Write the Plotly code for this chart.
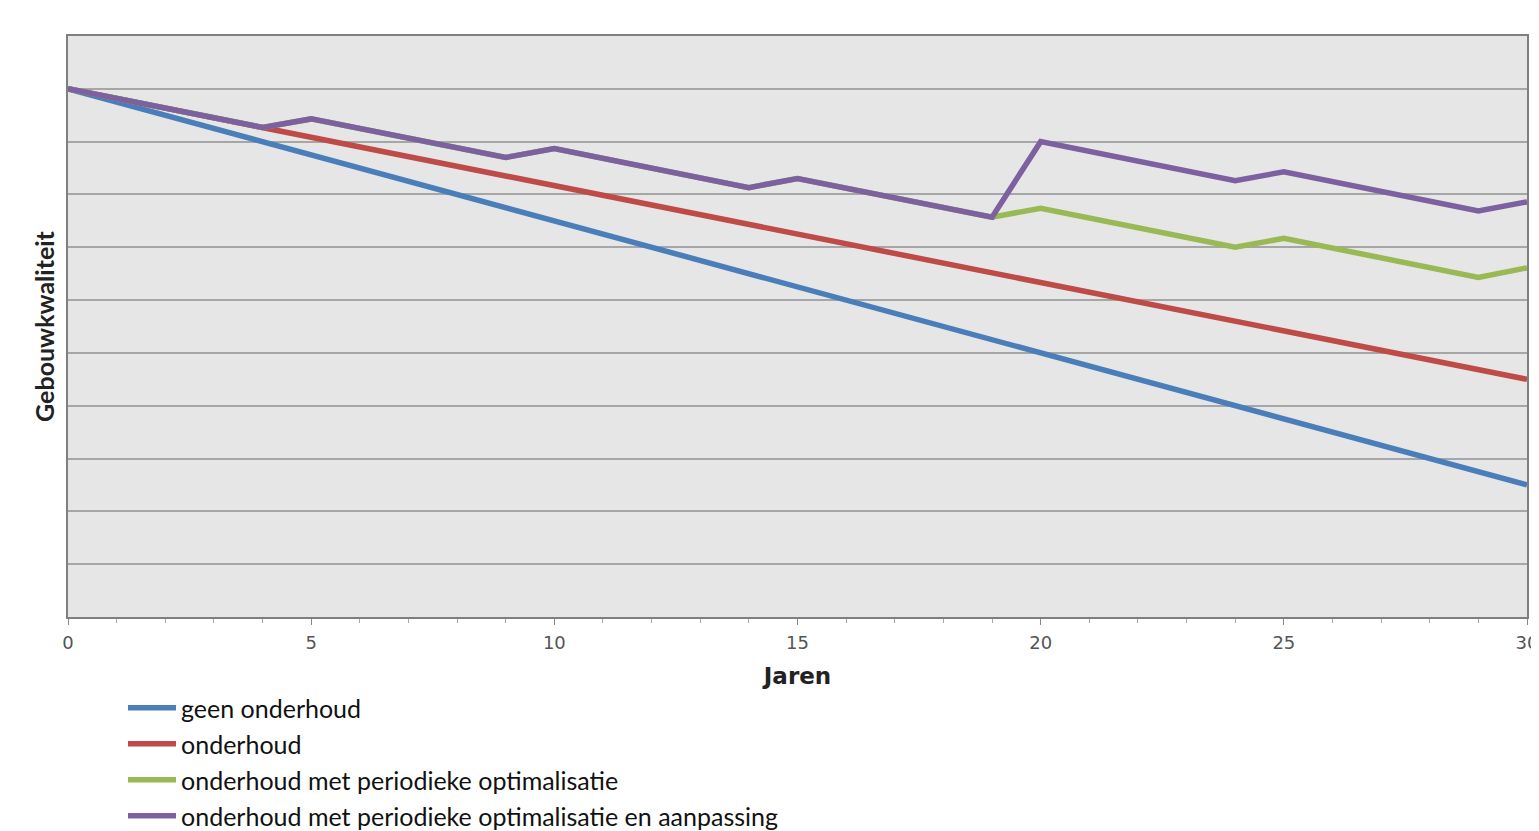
import plotly.graph_objects as go

# Data
x_blue = [0, 30]
y_blue = [10.0, 2.5]

x_red = [0, 30]
y_red = [10.0, 4.5]

x_green = [0, 4, 5, 9, 10, 14, 15, 19, 20, 24, 25, 29, 30]
y_green = [10.0, 9.27, 9.43, 8.70, 8.87, 8.13, 8.30, 7.57, 7.74, 7.0, 7.17, 6.43, 6.61]

x_purple = [0, 4, 5, 9, 10, 14, 15, 19, 20, 24, 25, 29, 30]
y_purple = [10.0, 9.27, 9.43, 8.70, 8.87, 8.13, 8.30, 7.57, 9.0, 8.26, 8.43, 7.69, 7.86]

names = ["geen onderhoud", "onderhoud", "onderhoud met periodieke optimalisatie",
         "onderhoud met periodieke optimalisatie en aanpassing"]
colors = ["#4a7ebb", "#be4b48", "#98b954", "#7d60a0"]

x_ticks = [0, 5, 10, 15, 20, 25, 30]

# the page body adds an 8px offset; positions below are figure pixels
OFF = 8
FW, FH = 1539 - OFF, 831 - OFF
PL, PR, PT, PB = 68 - OFF, 1527 - OFF, 36 - OFF, 617 - OFF   # plot area
PW, PH = PR - PL, PB - PT

def px_x(p):
    return (p - OFF - PL) / PW

def px_y(p):
    return (PB - (p - OFF)) / PH

legend_ids = ["legend", "legend2", "legend3", "legend4"]
legend_rows = [708, 744, 780, 816]

fig = go.Figure()
for xs, ys, n, c, lg in zip([x_blue, x_red, x_green, x_purple],
                            [y_blue, y_red, y_green, y_purple], names, colors, legend_ids):
    fig.add_trace(go.Scatter(x=xs, y=ys, mode="lines", name=n, legend=lg,
                             line=dict(color=c, width=5.5)))

# light grey page bands at the top and left edges of the screenshot
fig.add_shape(type="rect", xref="paper", yref="paper",
              x0=px_x(0), x1=px_x(1545), y0=px_y(6), y1=px_y(0),
              fillcolor="#f0f0f0", line=dict(width=0), layer="below")
fig.add_shape(type="rect", xref="paper", yref="paper",
              x0=px_x(0), x1=px_x(6), y0=px_y(840), y1=px_y(0),
              fillcolor="#f0f0f0", line=dict(width=0), layer="below")

legend_font = dict(family="Lato", size=25, color="#111111")
leg_layout = {}
for lg, row in zip(legend_ids, legend_rows):
    leg_layout[lg] = dict(x=px_x(123), y=px_y(row), xanchor="left", yanchor="middle",
                          font=legend_font, itemwidth=48, bgcolor="rgba(0,0,0,0)",
                          borderwidth=0)

fig.update_layout(
    width=FW, height=FH,
    margin=dict(l=PL, r=FW - PR, t=PT, b=FH - PB, autoexpand=False),
    paper_bgcolor="white",
    plot_bgcolor="#e6e6e6",
    showlegend=True,
    xaxis=dict(range=[0, 30], tickvals=x_ticks, ticktext=[str(t) for t in x_ticks],
               automargin=False,
               ticks="outside", ticklen=6, tickcolor="#888888", ticklabelstandoff=3,
               minor=dict(dtick=1, ticks="outside", ticklen=4, tickcolor="#aaaaaa"),
               showgrid=False, zeroline=False,
               showline=True, linecolor="#7f7f7f", linewidth=1.5, mirror=True,
               tickfont=dict(family="DejaVu Sans", size=18, color="#555555"),
               title=dict(text="<b>Jaren</b>", standoff=16,
                          font=dict(family="DejaVu Sans", size=23, color="#222222"))),
    yaxis=dict(range=[0, 11], dtick=1, showticklabels=False, automargin=False,
               showgrid=True, gridcolor="#a6a6a6", gridwidth=1.5,
               zeroline=False, ticks="",
               showline=True, linecolor="#7f7f7f", linewidth=1.5, mirror=True,
               title=dict(text="<b>Gebouwkwaliteit</b>", standoff=5,
                          font=dict(family="Lato", size=25, color="#222222"))),
    **leg_layout,
)

fig.write_html("out.html")
